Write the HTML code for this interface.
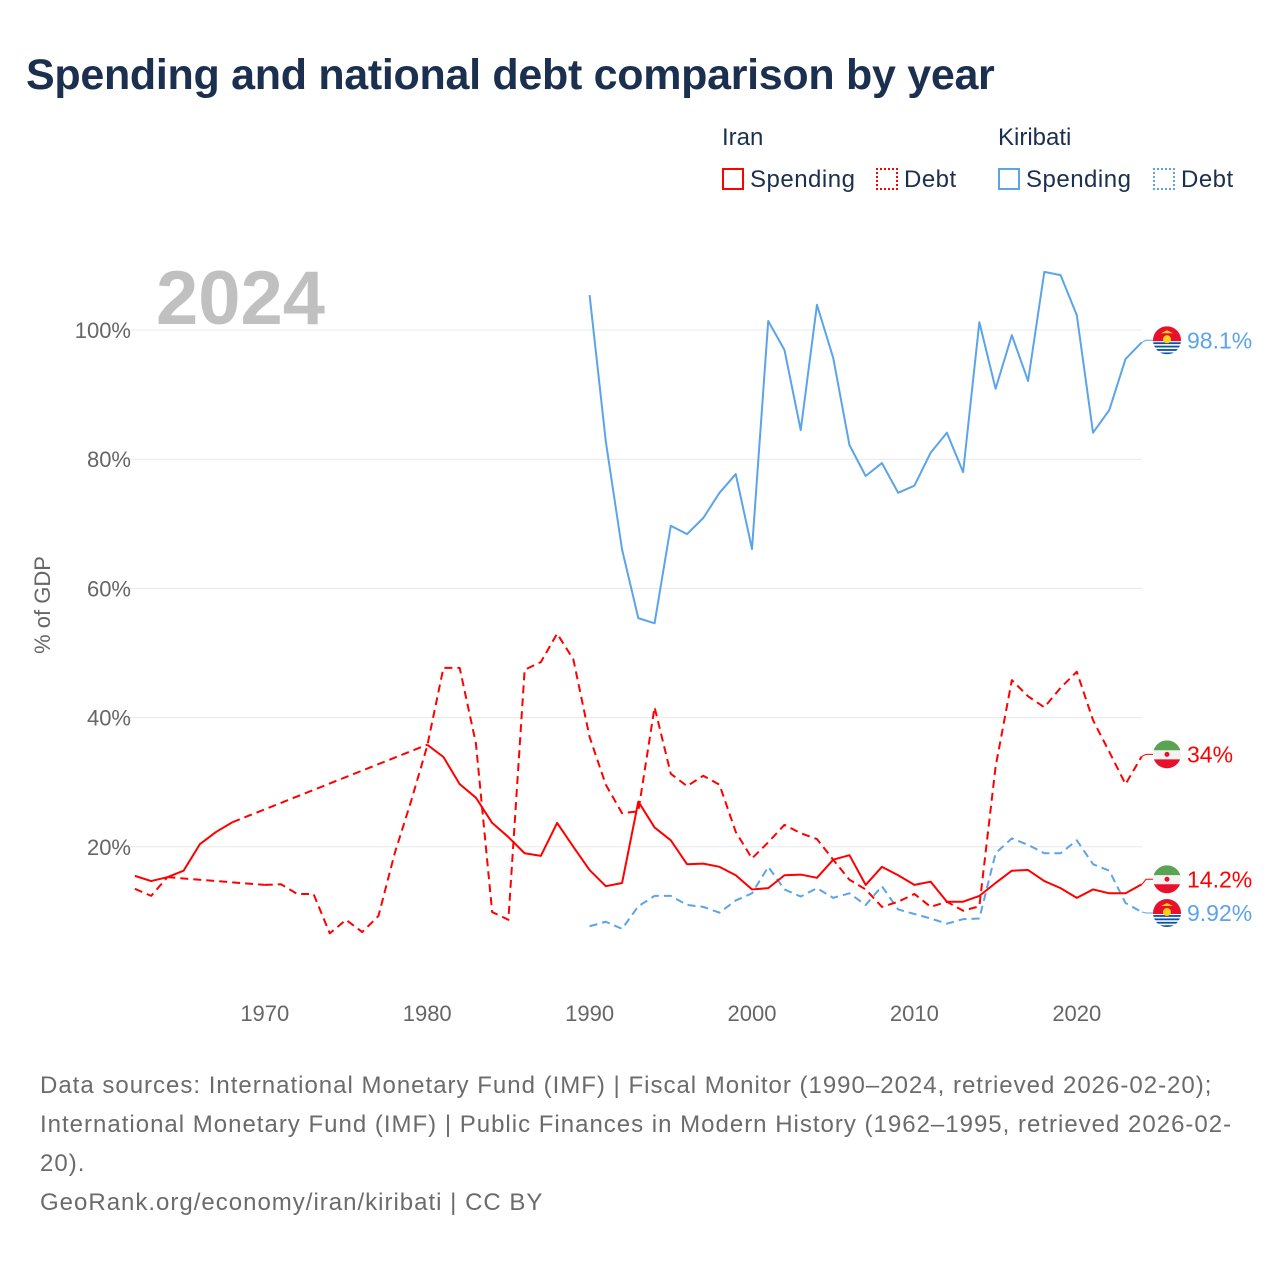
<!DOCTYPE html>
<html><head><meta charset="utf-8">
<style>
body{margin:0;background:#fff;font-family:"Liberation Sans",sans-serif;}
#wrap{position:relative;width:1280px;height:1280px;overflow:hidden;}
.t{position:absolute;white-space:nowrap;}
</style></head>
<body>
<div id="wrap">
<div class="t" style="left:26px;top:51px;font-size:43px;font-weight:bold;color:#1b2f4e;letter-spacing:-0.3px">Spending and national debt comparison by year</div>
<div class="t" style="left:722px;top:124px;font-size:24px;color:#1b2f4e">Iran</div>
<div class="t" style="left:998px;top:124px;font-size:24px;color:#1b2f4e">Kiribati</div>
<div class="t" style="left:722px;top:166px;font-size:24px;color:#1b2f4e;letter-spacing:0.5px"><span style="display:inline-block;width:22px;height:22px;border:2px solid #ff0000;box-sizing:border-box;vertical-align:-3px;margin-right:6px"></span>Spending</div>
<div class="t" style="left:876px;top:166px;font-size:24px;color:#1b2f4e;letter-spacing:0.5px"><span style="display:inline-block;width:22px;height:22px;border:2px dotted #ff0000;box-sizing:border-box;vertical-align:-3px;margin-right:6px"></span>Debt</div>
<div class="t" style="left:998px;top:166px;font-size:24px;color:#1b2f4e;letter-spacing:0.5px"><span style="display:inline-block;width:22px;height:22px;border:2px solid #5ba4ea;box-sizing:border-box;vertical-align:-3px;margin-right:6px"></span>Spending</div>
<div class="t" style="left:1153px;top:166px;font-size:24px;color:#1b2f4e;letter-spacing:0.5px"><span style="display:inline-block;width:22px;height:22px;border:2px dotted #5ba4ea;box-sizing:border-box;vertical-align:-3px;margin-right:6px"></span>Debt</div>

<svg id="chart" width="1280" height="1280" style="position:absolute;left:0;top:0" font-family="Liberation Sans, sans-serif"></svg>

<div class="t" style="left:40px;top:1066px;font-size:24px;line-height:39px;color:#6b6b6b;letter-spacing:1px">Data sources: International Monetary Fund (IMF) | Fiscal Monitor (1990–2024, retrieved 2026-02-20);<br>International Monetary Fund (IMF) | Public Finances in Modern History (1962–1995, retrieved 2026-02-<br>20).<br>GeoRank.org/economy/iran/kiribati | CC BY</div>
</div>
<script>
const iranYears = [];
for (let y = 1962; y <= 2024; y++) iranYears.push(y);
const iranSpending = [15.5,14.7,15.3,16.3,20.4,22.3,23.8,null,null,null,null,null,null,null,null,null,null,null,35.8,33.9,29.7,27.6,23.7,21.5,19,18.6,23.7,20,16.4,13.9,14.4,27,23,21,17.3,17.4,16.9,15.6,13.4,13.6,15.6,15.7,15.2,18,18.7,14.1,16.9,15.6,14.1,14.6,11.5,11.5,12.4,14.4,16.3,16.4,14.7,13.6,12.1,13.4,12.8,12.8,14.2];
const iranDebt = [13.5,12.4,15.3,null,null,null,null,null,14.1,14.2,12.7,12.7,6.6,8.7,6.8,9.3,19,27,35.6,47.7,47.7,36,9.9,8.7,47.4,48.6,53,49,37,29.6,25.2,25.5,41.6,31.3,29.4,31,29.6,22.3,18.2,20.7,23.4,22.1,21.2,18,14.9,13.4,10.7,11.5,12.7,10.7,11.5,10.1,10.8,32.4,45.8,43.3,41.6,44.6,47.1,39.6,34.7,29.7,34];
const kirYears = [];
for (let y = 1990; y <= 2024; y++) kirYears.push(y);
const kirSpending = [105.4,82.7,66,55.4,54.6,69.7,68.4,70.9,74.8,77.7,66.1,101.4,96.9,84.5,103.9,95.7,82.2,77.4,79.4,74.8,75.9,81,84.1,78,101.2,90.9,99.2,92.1,109,108.5,102.3,84.1,87.6,95.5,98.1];
const kirDebt = [7.7,8.4,7.3,10.8,12.4,12.4,11,10.7,9.8,11.7,12.8,16.9,13.4,12.3,13.6,12.1,12.8,11,13.9,10.3,9.6,8.9,8.1,8.8,8.9,19,21.3,20.3,19,19,21,17.3,16.3,11.3,9.9];
const yTicks = [20,40,60,80,100];
const yTickLabels = ["20%","40%","60%","80%","100%"];
const xTicks = [1970,1980,1990,2000,2010,2020];
const endLabels = ["98.1%","34%","14.2%","9.92%"];

const NS = "http://www.w3.org/2000/svg";
const svg = document.getElementById('chart');
const X = yr => 589.6 + (yr - 1990) * 16.24;
const Y = v => 976 - v * 6.46;
function mk(tag, attrs, parent) {
  const e = document.createElementNS(NS, tag);
  for (const k in attrs) e.setAttribute(k, attrs[k]);
  (parent || svg).appendChild(e);
  return e;
}
yTicks.forEach((t, i) => {
  const g = mk('line', {x1: 130, x2: 1142, y1: Y(t), y2: Y(t), stroke: '#e8e8e8', 'stroke-width': 1});
  
  
  const l = mk('text', {x: 131, y: Y(t) + 8, 'text-anchor': 'end', 'font-size': 22, fill: '#666'});
  l.textContent = yTickLabels[i];
  
  
});
xTicks.forEach(t => {
  const l = mk('text', {x: X(t), y: 1021, 'text-anchor': 'middle', 'font-size': 22, fill: '#666'});
  l.textContent = t;
  
  
});
const yt = mk('text', {x: 0, y: 0, transform: 'translate(50,605) rotate(-90)', 'text-anchor': 'middle', 'font-size': 22, fill: '#666'});
yt.textContent = '% of GDP';


const yr = mk('text', {x: 156, y: 324, 'font-size': 76, 'font-weight': 'bold', fill: '#c0c0c0'});
yr.textContent = '2024';



function series(years, vals, color, dashed, name) {
  const segs = []; let cur = [];
  years.forEach((y, i) => {
    if (vals[i] == null) { if (cur.length) segs.push(cur); cur = []; }
    else cur.push([X(y), Y(vals[i])]);
  });
  if (cur.length) segs.push(cur);
  const dash = dashed ? '8,5' : 'none';
  segs.forEach((s, i) => {
    const p = mk('polyline', {points: s.map(q => q.join(',')).join(' '), fill: 'none', stroke: color, 'stroke-width': 2, 'stroke-dasharray': dash, 'stroke-linejoin': 'round'});
    
    
    if (i > 0) {
      const a = segs[i-1][segs[i-1].length-1], b = s[0];
      const g = mk('line', {x1: a[0], y1: a[1], x2: b[0], y2: b[1], stroke: color, 'stroke-width': 2, 'stroke-dasharray': '8,5'});
      
      
    }
  });
}
series(kirYears, kirSpending, '#5ba4ea', false, 'kiribati-spending');
series(kirYears, kirDebt, '#5ba4ea', true, 'kiribati-debt');
series(iranYears, iranDebt, '#ff0000', true, 'iran-debt');
series(iranYears, iranSpending, '#ff0000', false, 'iran-spending');

function flag(cx, cy, kind) {
  const g = mk('g', {});
  
  
  const id = 'c' + Math.round(cy);
  const cp = mk('clipPath', {id: id}, g);
  mk('circle', {cx: cx, cy: cy, r: 14}, cp);
  const inner = mk('g', {'clip-path': 'url(#' + id + ')'}, g);
  if (kind === 'iran') {
    mk('rect', {x: cx-14, y: cy-14, width: 28, height: 10, fill: '#5aa352'}, inner);
    mk('rect', {x: cx-14, y: cy-4, width: 28, height: 9, fill: '#f2f2f2'}, inner);
    mk('rect', {x: cx-14, y: cy+5, width: 28, height: 10, fill: '#e8112d'}, inner);
    mk('circle', {cx: cx, cy: cy, r: 2.5, fill: '#e8112d'}, inner);
  } else {
    mk('rect', {x: cx-14, y: cy-14, width: 28, height: 15, fill: '#e8112d'}, inner);
    mk('rect', {x: cx-14, y: cy+1, width: 28, height: 14, fill: '#fff'}, inner);
    for (let k = 0; k < 4; k++) mk('rect', {x: cx-14, y: cy+2 + k*3.4, width: 28, height: 1.8, fill: '#0b4fa8'}, inner);
    mk('circle', {cx: cx, cy: cy-1, r: 4, fill: '#fcd116'}, inner);
    mk('path', {d: `M${cx-6},${cy-7} L${cx+6},${cy-7} L${cx},${cy-10}Z`, fill: '#fcd116'}, inner);
  }
}
const ends = [
  [kirSpending[kirSpending.length-1], 'kiribati', '#5ba4ea', 0],
  [iranDebt[iranDebt.length-1], 'iran', '#ff0000', 1],
  [iranSpending[iranSpending.length-1], 'iran', '#ff0000', 2],
  [kirDebt[kirDebt.length-1], 'kiribati', '#5ba4ea', 3]
];
const offs = [-2, -2, -5, 1];
ends.forEach((e, i) => {
  const cy = Y(e[0]) + offs[i];
  mk('polyline', {points: `1142,${Y(e[0])} 1146,${cy} 1154,${cy}`, fill: 'none', stroke: e[2], 'stroke-width': 1});
  flag(1167, cy, e[1]);
  const t = mk('text', {x: 1187, y: cy + 8, 'font-size': 23, fill: e[2]});
  t.textContent = endLabels[e[3]];
  
  
});
</script>
</body></html>
